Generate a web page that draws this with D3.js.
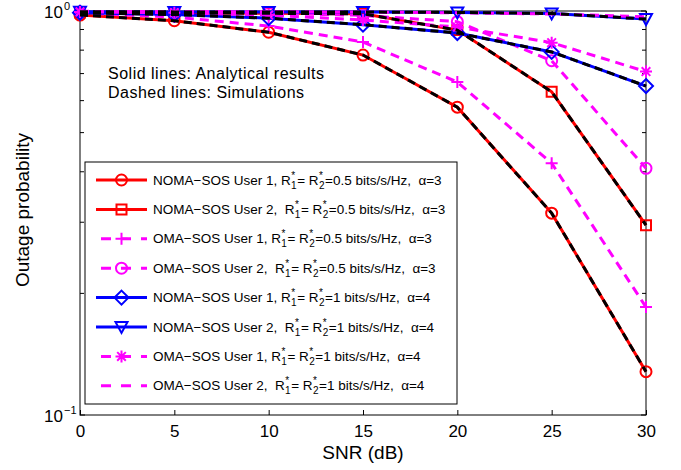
<!DOCTYPE html>
<html>
<head>
<meta charset="utf-8">
<script src="https://cdn.jsdelivr.net/npm/d3@7"></script>
<style>
  body { margin: 0; background: #fff; }
  text { font-family: "Liberation Sans", Arial, Helvetica, sans-serif; fill: #000; }
</style>
</head>
<body>
<div id="chart"></div>
<script>
// values
const snr = [0, 5, 10, 15, 20, 25, 30];
const nomaU1A3 = [0.977, 0.946, 0.886, 0.778, 0.578, 0.316, 0.128];
const nomaU2A3 = [0.992, 0.990, 0.987, 0.984, 0.897, 0.631, 0.295];
const omaU1A3  = [0.989, 0.966, 0.918, 0.838, 0.667, 0.420, 0.185];
const omaU2A3  = [0.995, 0.992, 0.988, 0.975, 0.941, 0.753, 0.408];
const nomaU1A4 = [0.990, 0.980, 0.960, 0.925, 0.882, 0.792, 0.652];
const nomaU2A4 = [0.996, 0.995, 0.995, 0.994, 0.992, 0.986, 0.955];
const omaU1A4  = [0.995, 0.990, 0.977, 0.950, 0.913, 0.835, 0.708];
const omaU2A4  = [0.998, 0.997, 0.996, 0.994, 0.990, 0.983, 0.968];

const xTicks = [0, 5, 10, 15, 20, 25, 30];
const yMajor = [0.1, 1];
const yMajorLabels = [["10", "\u22121"], ["10", "0"]];
const yMinor = [0.2, 0.3, 0.4, 0.5, 0.6, 0.7, 0.8, 0.9];

const series = [
  { name: "NOMA\u2212SOS User 1,", gap: " ", rate: "0.5", alpha: "3", values: nomaU1A3, color: "#ff0000", dash: null, marker: "circle", sim: true },
  { name: "NOMA\u2212SOS User 2,", gap: "  ", rate: "0.5", alpha: "3", values: nomaU2A3, color: "#ff0000", dash: null, marker: "square", sim: true },
  { name: "OMA\u2212SOS User 1,", gap: " ", rate: "0.5", alpha: "3", values: omaU1A3, color: "#ff00ff", dash: "9,6", marker: "plus" },
  { name: "OMA\u2212SOS User 2,", gap: "  ", rate: "0.5", alpha: "3", values: omaU2A3, color: "#ff00ff", dash: "9,6", marker: "circle" },
  { name: "NOMA\u2212SOS User 1,", gap: " ", rate: "1", alpha: "4", values: nomaU1A4, color: "#0000ff", dash: null, marker: "diamond", sim: true },
  { name: "NOMA\u2212SOS User 2,", gap: "  ", rate: "1", alpha: "4", values: nomaU2A4, color: "#0000ff", dash: null, marker: "triangle", sim: true },
  { name: "OMA\u2212SOS User 1,", gap: " ", rate: "1", alpha: "4", values: omaU1A4, color: "#ff00ff", dash: "9,6", marker: "star" },
  { name: "OMA\u2212SOS User 2,", gap: "  ", rate: "1", alpha: "4", values: omaU2A4, color: "#ff00ff", dash: "9,6", marker: null }
];

const margin = { top: 11, left: 80 };
const width = 566, height = 404;

const svg = d3.select("#chart").append("svg")
  .attr("width", 681)
  .attr("height", 470);

const g = svg.append("g").attr("transform", `translate(${margin.left},${margin.top})`);

const x = d3.scaleLinear().domain([0, 30]).range([0, width]);
const y = d3.scaleLog().domain([0.1, 1]).range([height, 0]);

// axes box + ticks
g.append("rect")
  .attr("width", width).attr("height", height)
  .attr("fill", "none").attr("stroke", "#000").attr("stroke-width", 1);

const xAxis = g.append("g")
  .attr("transform", `translate(0,${height})`)
  .call(d3.axisBottom(x).tickValues(xTicks).tickSize(-5).tickPadding(10).tickSizeOuter(0));
xAxis.select(".domain").remove();
xAxis.selectAll("text").style("font-size", "17px").style("font-family", "Liberation Sans, Arial, sans-serif");

const xTop = g.append("g")
  .call(d3.axisTop(x).tickValues(xTicks).tickSize(-5).tickFormat("").tickSizeOuter(0));
xTop.select(".domain").remove();

[0, width].forEach((px, i) => {
  const dir = i === 0 ? 1 : -1;
  g.selectAll(null).data(yMinor).enter().append("line")
    .attr("x1", px).attr("x2", px + dir * 4)
    .attr("y1", d => y(d)).attr("y2", d => y(d))
    .attr("stroke", "#000");
  g.selectAll(null).data(yMajor).enter().append("line")
    .attr("x1", px).attr("x2", px + dir * 5)
    .attr("y1", d => y(d)).attr("y2", d => y(d))
    .attr("stroke", "#000");
});

yMajor.forEach((v, i) => {
  g.append("text")
    .attr("x", -17).attr("y", y(v) + 7)
    .attr("text-anchor", "end")
    .style("font-size", "17px")
    .text(yMajorLabels[i][0]);
  g.append("text")
    .attr("x", -16).attr("y", y(v) - 1.5)
    .style("font-size", "11px")
    .text(yMajorLabels[i][1]);
});

// axis titles
svg.append("text")
  .attr("x", margin.left + width / 2).attr("y", 459)
  .attr("text-anchor", "middle")
  .style("font-size", "19px")
  .text("SNR (dB)");

svg.append("text")
  .attr("transform", "translate(29,210) rotate(-90)")
  .attr("text-anchor", "middle")
  .style("font-size", "19px")
  .text("Outage probability");

// markers
const markerPath = (type) => {
  switch (type) {
    case "square": return "M-5,-5H5V5H-5Z";
    case "plus": return "M-6,0H6M0,-6V6";
    case "star": return "M-6,0H6M0,-6V6M-4.3,-4.3L4.3,4.3M-4.3,4.3L4.3,-4.3";
    case "diamond": return "M0,-7L7,0L0,7L-7,0Z";
    case "triangle": return "M-6,-5H6L0,6Z";
    default: return null;
  }
};

const drawMarker = (sel, type, color) => {
  if (!type) return;
  if (type === "circle") {
    sel.append("circle").attr("r", 5.5)
      .attr("fill", "none").attr("stroke", color).attr("stroke-width", 2);
  } else {
    sel.append("path").attr("d", markerPath(type))
      .attr("fill", "none").attr("stroke", color).attr("stroke-width", 2)
      .attr("stroke-linejoin", "miter");
  }
};

const line = d3.line()
  .x((d, i) => x(snr[i]))
  .y(d => y(d));

series.forEach(s => {
  g.append("path")
    .attr("d", line(s.values))
    .attr("fill", "none")
    .attr("stroke", s.color)
    .attr("stroke-width", 3)
    .attr("stroke-dasharray", s.dash);

  g.selectAll(null).data(s.values).enter().append("g")
    .attr("transform", (d, i) => `translate(${x(snr[i])},${y(d)})`)
    .each(function () { drawMarker(d3.select(this), s.marker, s.color); });
});

// simulation overlays (black dashed) on the NOMA curves
series.filter(s => s.sim).forEach(s => {
  g.append("path")
    .attr("d", line(s.values))
    .attr("fill", "none")
    .attr("stroke", "#000")
    .attr("stroke-width", 3)
    .attr("stroke-dasharray", "8,5");
});

// annotation
svg.append("text").attr("x", 108).attr("y", 79).style("font-size", "16px")
  .style("letter-spacing", "0.5px")
  .text("Solid lines: Analytical results");
svg.append("text").attr("x", 108).attr("y", 98).style("font-size", "16px")
  .style("letter-spacing", "0.5px")
  .text("Dashed lines: Simulations");

// legend
const legend = svg.append("g");
legend.append("rect")
  .attr("x", 85).attr("y", 162).attr("width", 372).attr("height", 242)
  .attr("fill", "#fff").attr("stroke", "#000").attr("stroke-width", 1);

series.forEach((s, i) => {
  const ly = 180 + i * 29.4;
  legend.append("line")
    .attr("x1", 96).attr("x2", 147).attr("y1", ly).attr("y2", ly)
    .attr("stroke", s.color).attr("stroke-width", 3)
    .attr("stroke-dasharray", s.dash ? "10,10" : null)
    .attr("stroke-dashoffset", s.dash ? -5 : null);
  drawMarker(legend.append("g").attr("transform", `translate(121.5,${ly})`), s.marker, s.color);

  const t = legend.append("text")
    .attr("x", 153).attr("y", ly + 4.5)
    .style("font-size", "13.5px")
    .style("white-space", "pre");
  t.append("tspan").text(`${s.name}${s.gap}R`);
  t.append("tspan").attr("dx", 0.5).attr("dy", -6).style("font-size", "10px").text("*");
  t.append("tspan").attr("dx", -4).attr("dy", 10).style("font-size", "10px").text("1");
  t.append("tspan").attr("dx", 0.5).attr("dy", -4).text("= R");
  t.append("tspan").attr("dx", 0.5).attr("dy", -6).style("font-size", "10px").text("*");
  t.append("tspan").attr("dx", -4).attr("dy", 10).style("font-size", "10px").text("2");
  t.append("tspan").attr("dx", 0.5).attr("dy", -4).text(`=${s.rate} bits/s/Hz,  \u03b1=${s.alpha}`);
});
</script>
</body>
</html>
